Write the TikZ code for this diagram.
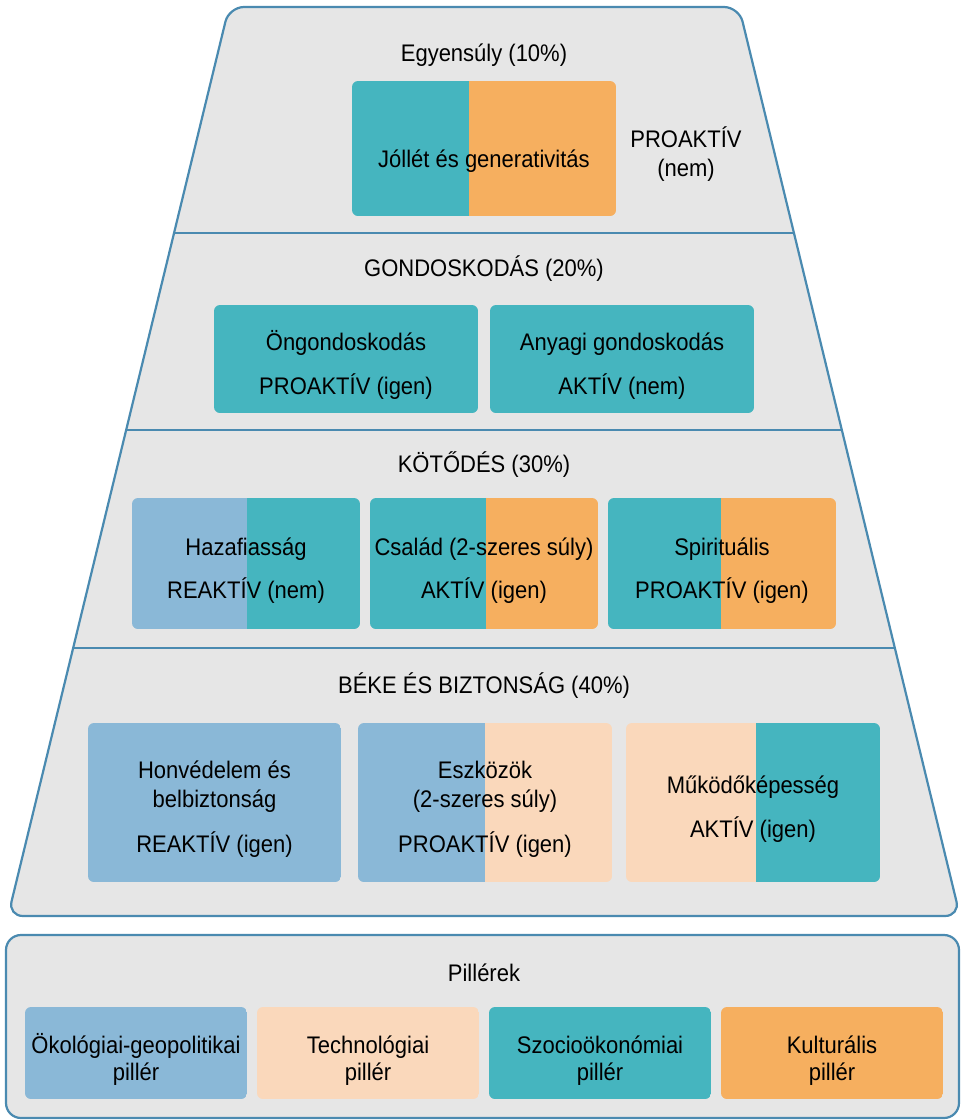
\documentclass[tikz,border=0pt]{standalone}
\usepackage{fontspec}
\setmainfont{Liberation Sans}
\definecolor{edge}{HTML}{4A8AB0}
\definecolor{bgfill}{HTML}{E6E6E6}
\definecolor{cteal}{HTML}{45B5BF}
\definecolor{corange}{HTML}{F6AF5F}
\definecolor{cblue}{HTML}{8AB8D7}
\definecolor{cpeach}{HTML}{FAD8BB}
\tikzset{
  lbl/.style={font=\fontsize{22}{26}\selectfont, anchor=base, inner sep=0pt, text=black, yscale=1.09},
  frame/.style={draw=edge, line width=2.2pt, fill=bgfill, rounded corners=15pt},
  divider/.style={draw=edge, line width=2.2pt},
  boxround/.style={rounded corners=6pt},
}
% name, x1, y1, xm, x2, y2, colour1, colour2
\newcommand\twobox[8]{%
  \begin{scope}
    \clip[boxround] (#2,#3) rectangle (#5,#6);
    \fill[#7] (#2,#3) rectangle (#4,#6);
    \fill[#8] (#4,#3) rectangle (#5,#6);
  \end{scope}
  \coordinate (#1) at ({(#2+#5)/2},{(#3+#6)/2});
}
\begin{document}
\begin{tikzpicture}[x=1pt,y=-1pt]
\useasboundingbox[fill=white] (0,0) rectangle (961,1120);

% pyramid
\draw[frame] (229,7) -- (739,7) -- (960,916) -- (8,916) -- cycle;
\draw[divider] (174.1,233) -- (793.9,233);
\draw[divider] (126.2,430) -- (841.8,430);
\draw[divider] (73.2,648) -- (894.8,648);

% level 1
\node[lbl] (t1) at (484,61) {Egyensúly (10\%)};
\twobox{b11}{352}{81}{469}{616}{216}{cteal}{corange}
\node[lbl] (b11a) at (484,167) {Jóllét és generativitás};
\node[lbl] (p1) at (686,147) {PROAKTÍV};
\node[lbl] (p2) at (686,176) {(nem)};

% level 2
\node[lbl] (t2) at (484,276) {GONDOSKODÁS (20\%)};
\twobox{b21}{214}{305}{346}{478}{413}{cteal}{cteal}
\node[lbl] (b21a) at (346,350) {Öngondoskodás};
\node[lbl] (b21b) at (346,394) {PROAKTÍV (igen)};
\twobox{b22}{490}{305}{622}{754}{413}{cteal}{cteal}
\node[lbl] (b22a) at (622,350) {Anyagi gondoskodás};
\node[lbl] (b22b) at (622,394) {AKTÍV (nem)};

% level 3
\node[lbl] (t3) at (484,472) {KÖTŐDÉS (30\%)};
\twobox{b31}{132}{498}{247}{360}{629}{cblue}{cteal}
\node[lbl] (b31a) at (246,555) {Hazafiasság};
\node[lbl] (b31b) at (246,598) {REAKTÍV (nem)};
\twobox{b32}{370}{498}{486}{598}{629}{cteal}{corange}
\node[lbl] (b32a) at (484,555) {Család (2-szeres súly)};
\node[lbl] (b32b) at (484,598) {AKTÍV (igen)};
\twobox{b33}{608}{498}{721}{836}{629}{cteal}{corange}
\node[lbl] (b33a) at (722,555) {Spirituális};
\node[lbl] (b33b) at (722,598) {PROAKTÍV (igen)};

% level 4
\node[lbl] (t4) at (484,693) {BÉKE ÉS BIZTONSÁG (40\%)};
\twobox{b41}{88}{723}{215}{341}{882}{cblue}{cblue}
\node[lbl] (b41a) at (214.5,778) {Honvédelem és};
\node[lbl] (b41b) at (214.5,807) {belbiztonság};
\node[lbl] (b41c) at (214.5,852) {REAKTÍV (igen)};
\twobox{b42}{358}{723}{485}{612}{882}{cblue}{cpeach}
\node[lbl] (b42a) at (485,778) {Eszközök};
\node[lbl] (b42b) at (485,807) {(2-szeres súly)};
\node[lbl] (b42c) at (485,852) {PROAKTÍV (igen)};
\twobox{b43}{626}{723}{756}{880}{882}{cpeach}{cteal}
\node[lbl] (b43a) at (753,793) {Működőképesség};
\node[lbl] (b43b) at (753,837) {AKTÍV (igen)};

% pillars
\draw[frame] (6,935) rectangle (959,1118);
\node[lbl] (t5) at (484,981) {Pillérek};
\twobox{c1}{25}{1007}{136}{247}{1099}{cblue}{cblue}
\node[lbl] (c1a) at (136,1053) {Ökológiai-geopolitikai};
\node[lbl] (c1b) at (136,1080) {pillér};
\twobox{c2}{257}{1007}{368}{479}{1099}{cpeach}{cpeach}
\node[lbl] (c2a) at (368,1053) {Technológiai};
\node[lbl] (c2b) at (368,1080) {pillér};
\twobox{c3}{489}{1007}{600}{711}{1099}{cteal}{cteal}
\node[lbl] (c3a) at (600,1053) {Szocioökonómiai};
\node[lbl] (c3b) at (600,1080) {pillér};
\twobox{c4}{721}{1007}{832}{943}{1099}{corange}{corange}
\node[lbl] (c4a) at (832,1053) {Kulturális};
\node[lbl] (c4b) at (832,1080) {pillér};
\end{tikzpicture}
\end{document}
